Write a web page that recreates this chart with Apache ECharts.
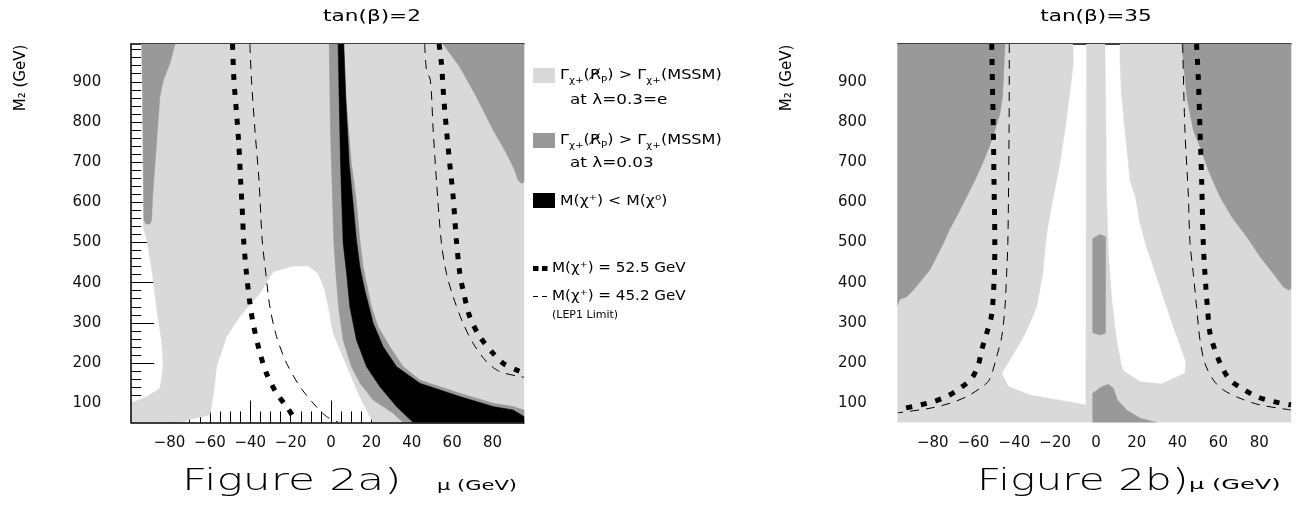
<!DOCTYPE html>
<html><head><meta charset="utf-8">
<script src="https://cdn.jsdelivr.net/npm/echarts@6/dist/echarts.min.js"></script>
<style>html,body{margin:0;padding:0;background:#fff}#c{width:1296px;height:517px}</style>
</head><body><div id="c"></div>
<script>
// ---------- tick labels ----------
const xTickLabels = [-80, -60, -40, -20, 0, 20, 40, 60, 80];
const yTickLabels = [100, 200, 300, 400, 500, 600, 700, 800, 900];
const xMajorTicks = [-80, -40, 0, 40, 80];
const xMinorTicks = [];
for (let v = -95; v <= 95; v += 5) xMinorTicks.push(v);
const yMinorTicks = [];
for (let v = 60; v <= 980; v += 20) yMinorTicks.push(v);

// ---------- Figure 2a : tan(beta)=2  (mu, M2) ----------
const a_lightGray = [[-93.8,994],[95.6,994],[95.6,52],[20.9,52],[18.4,75],[13.4,124.8],[9.3,174.5],[5.2,224.3],[1.1,274],[-1.4,340.4],[-3.1,381.8],[-6.4,423.3],[-11.3,441.5],[-18.8,441.5],[-28.7,427.4],[-35.2,373.5],[-45.2,315.5],[-51.8,265.7],[-56.7,191.1],[-58.4,116.5],[-60,71],[-70.8,58.5],[-73.3,52],[-99,52],[-99,102],[-97,104],[-91.3,116],[-84.7,137],[-83.1,195],[-84,257],[-86.5,340],[-88.5,423],[-91,498],[-93,539],[-93,564]];
const a_darkTopLeft = [[-93.8,994],[-77.3,994],[-79.8,946],[-83.1,904],[-84.8,863],[-87.2,697],[-88.4,614],[-88.9,556],[-89.7,546],[-91.7,546],[-92.7,556],[-93,697],[-93.3,863]];
const a_darkTopRight = [[55.5,994],[95.6,994],[95.6,651],[94.3,647],[92.6,655.5],[91,680],[86.9,722],[80.3,780],[72,863],[63.8,937]];
const a_darkBand = [[-0.9,994],[-0.3,780],[0.7,614],[1.4,498],[2.4,423],[3.7,340],[6,257],[10.1,191],[14.3,150],[20.9,108],[30.8,75],[35.7,52],[95.6,52],[95.6,83],[90.2,91.6],[80.3,99.9],[63.8,124.8],[44,157.9],[35.7,191.1],[29.1,240.9],[23.3,290.6],[20,340.4],[15.9,439.9],[14.3,506.2],[12.3,614],[10.1,697],[8,821],[7.3,863],[6.3,994]];
const a_black = [[3.5,994],[4,863],[4.7,697],[5.2,614],[6,498],[7.7,423],[9.3,340],[12.6,257],[17.6,191],[24.2,141],[32.4,91.6],[40.7,52],[95.6,52],[95.6,66.7],[90.2,83.3],[80.3,91.6],[63.8,116.5],[44,149.6],[32.4,191.1],[25.8,240.9],[20.9,298.9],[16.7,381.8],[14.3,439.9],[12.6,506.2],[10.6,614],[9,697],[7.3,863],[6.3,994]];
const a_m525Left = [[-48.8,994],[-48.1,904],[-46.8,821],[-45.6,738],[-44.8,655.5],[-43.8,564],[-43.3,506],[-41.9,423],[-40.2,349],[-38.6,299],[-35.6,232.6],[-32,174.5],[-27,124.8],[-22,91.6],[-17.1,53.5]];
const a_m452Left = [[-40.2,994],[-39.4,904],[-37.7,780],[-35.7,655.5],[-34.1,506],[-32.3,423],[-30.3,340],[-27,265.7],[-22,199.4],[-15.4,141.4],[-8.8,99.9],[-2.2,66.7],[3.5,53.5]];
const a_m525Right = [[53.5,994],[54.7,946],[55.8,863],[57.2,780],[58.8,697],[60.5,614],[62.1,506],[63.8,423],[65.4,382],[68.7,315.5],[73.7,265.7],[80.3,224.3],[85.2,199.4],[91.8,182.8],[95.6,174.5]];
const a_m452Right = [[46.4,994],[47.3,929],[49.2,904],[50.6,780],[52.2,655.5],[54.7,498],[57.2,423],[60.5,365],[65.4,299],[70.4,249],[77,203.5],[83.6,178.7],[93.5,166.2],[95.6,164.6]];

// ---------- Figure 2b : tan(beta)=35 ----------
const b_lightGray = [[-97.2,994],[-11.4,994],[-11.1,946],[-13.1,863],[-15.2,780],[-17.7,697],[-20.9,614],[-23.9,531],[-24.5,506],[-26.1,423],[-29.1,340],[-32.4,299],[-36.4,257],[-41.3,216],[-46.2,174.5],[-43,141.4],[-32.4,120.6],[-4.9,95.8],[-4.6,994],[4.4,994],[5.2,606],[6,482],[7.7,357],[10.1,257],[12.6,191],[13.4,181],[21.6,153.7],[32.2,148],[43.6,174.6],[44.1,203.5],[41,247],[37.9,291],[33,365],[28.1,440],[24.5,494],[21.6,548],[19.5,610],[16.7,655],[15.9,697],[14.2,780],[12.6,863],[11.8,946],[11.8,994],[95.6,994],[95.6,52],[-97.2,52]];
const b_darkTopLeft = [[-97.2,994],[-44.6,994],[-45.8,863],[-47.1,821],[-49.5,780],[-52.3,738],[-55.6,697],[-59.3,655.5],[-63.4,614],[-67.5,572.5],[-71.9,531],[-74.8,498],[-78.1,465],[-81.4,432],[-89.5,382],[-92.8,365],[-96.1,359],[-97.2,345]];
const b_darkTopRight = [[42,994],[95.6,994],[95.6,385],[94.3,382],[91.8,390],[86.9,423],[80.4,465],[73.9,514.5],[66.5,564],[60.8,614],[55.1,680],[51,738],[47.7,780],[44.5,863]];
const b_darkStrip = [[-1.6,510],[2,520],[4.7,514.5],[4.7,274],[2,270],[-1.6,275.6]];
const b_darkBottom = [[-1.6,52],[-1.6,125],[2.8,141],[6,147],[8.5,137],[10.5,108],[15,83],[21.6,62.7],[29.7,52]];
const b_m525Left = [[-51.1,994],[-50.8,904],[-50.3,780],[-50,655.5],[-49.6,498],[-49.8,423],[-50.7,340],[-51.5,311],[-53.6,274],[-56,232.6],[-57.7,195],[-60.9,162],[-66.7,137],[-73.2,116.5],[-79.7,104],[-86.3,95.8],[-96.1,85],[-97.2,83.5]];
const b_m452Left = [[-42.5,994],[-42.6,780],[-43.2,500],[-43.8,423],[-44.6,340],[-46.2,265.7],[-48.7,216],[-52.3,158],[-56.9,137],[-63.4,116.5],[-71.6,99.9],[-81.4,87.5],[-96.1,76.7],[-97.2,76]];
const b_m525Right = [[49.3,994],[50.2,904],[51,780],[51.8,655.5],[52.6,498],[53.4,423],[54.6,340],[55.9,274],[58.3,232.6],[61.6,191.1],[65.7,157.9],[71.4,137.2],[78.8,116.5],[86.9,104],[95.6,95.8]];
const b_m452Right = [[42.5,994],[43.6,780],[45.3,614],[46.1,498],[47.7,423],[49.3,340],[51,257],[53.4,199.4],[57.5,157.9],[62.4,133.1],[70.6,112.3],[80.4,95.8],[95.6,83.3]];

const LIGHT = '#d9d9d9', DARK = '#999999', BLACK = '#000000';
const FONT = 'DejaVu Sans';
const fmt = v => String(v).replace('-', '\u2212');

function poly(pts, color, xi, yi) {
  return {
    type: 'custom', coordinateSystem: 'cartesian2d', xAxisIndex: xi, yAxisIndex: yi,
    data: pts, encode: { x: 0, y: 1 }, clip: true, silent: true, animation: false, z: 2,
    renderItem: function (params, api) {
      if (params.dataIndex !== 0) return null;
      return { type: 'polygon', shape: { points: pts.map(p => api.coord(p)) },
               style: { fill: color, stroke: color, lineWidth: 0.5 } };
    }
  };
}
function curve(pts, thick, xi, yi) {
  return {
    type: 'line', xAxisIndex: xi, yAxisIndex: yi, data: pts, symbol: 'none', showSymbol: false,
    smooth: 0.3, clip: true, silent: true, animation: false, z: 5,
    lineStyle: thick ? { color: BLACK, width: 5, type: [6, 9], cap: 'butt' }
                     : { color: BLACK, width: 1, type: [9, 7], cap: 'butt' }
  };
}
const lbl = { fontFamily: FONT, fontSize: 15, color: '#111' };
function baseX(gi, min, max) {
  return { gridIndex: gi, type: 'value', min: min, max: max, splitLine: { show: false },
           axisLine: { show: false, onZero: false }, axisTick: { show: false }, axisLabel: { show: false } };
}
const xAxes = [
  Object.assign(baseX(0, -99, 95.6), { position: 'bottom', z: 0,
    axisTick: { show: true, inside: true, length: 22, customValues: xMajorTicks, lineStyle: { color: '#000', width: 1 } },
    axisLabel: Object.assign({ show: true, customValues: xTickLabels, margin: 13, formatter: fmt }, lbl) }),
  Object.assign(baseX(0, -99, 95.6), { position: 'bottom', z: 0,
    axisTick: { show: true, inside: true, length: 11, customValues: xMinorTicks, lineStyle: { color: '#000', width: 1 } } }),
  Object.assign(baseX(0, -99, 95.6), { position: 'bottom', z: 10,
    axisLine: { show: true, onZero: false, lineStyle: { color: '#000', width: 1.5 } } }),
  Object.assign(baseX(0, -99, 95.6), { position: 'top', z: 0,
    axisLine: { show: true, onZero: false, lineStyle: { color: '#000', width: 1.5 } } }),
  Object.assign(baseX(1, -97.2, 95.6), { position: 'bottom', z: 0,
    axisLabel: Object.assign({ show: true, customValues: xTickLabels, margin: 13, formatter: fmt }, lbl) }),
  Object.assign(baseX(1, -97.2, 95.6), { position: 'top', z: 0,
    axisLine: { show: true, onZero: false, lineStyle: { color: '#000', width: 1.5 } } })
];
function baseY(gi) {
  return { gridIndex: gi, type: 'value', min: 52, max: 994, splitLine: { show: false },
           axisLine: { show: false, onZero: false }, axisTick: { show: false }, axisLabel: { show: false } };
}
const yAxes = [
  Object.assign(baseY(0), { position: 'left', z: 0,
    axisTick: { show: true, inside: true, length: 23, customValues: yTickLabels, lineStyle: { color: '#000', width: 1 } },
    axisLabel: Object.assign({ show: true, customValues: yTickLabels, margin: 30 }, lbl) }),
  Object.assign(baseY(0), { position: 'left', z: 0,
    axisTick: { show: true, inside: true, length: 10, customValues: yMinorTicks, lineStyle: { color: '#000', width: 1 } } }),
  Object.assign(baseY(0), { position: 'left', z: 10,
    axisLine: { show: true, onZero: false, lineStyle: { color: '#000', width: 1.5 } } }),
  Object.assign(baseY(1), { position: 'left', z: 0,
    axisLabel: Object.assign({ show: true, customValues: yTickLabels, margin: 31 }, lbl) })
];

const series = [
  poly(a_lightGray, LIGHT, 0, 0),
  poly(a_darkTopLeft, DARK, 0, 0),
  poly(a_darkTopRight, DARK, 0, 0),
  poly(a_darkBand, DARK, 0, 0),
  poly(a_black, BLACK, 0, 0),
  curve(a_m525Left, true, 0, 0),
  curve(a_m525Right, true, 0, 0),
  curve(a_m452Left, false, 0, 0),
  curve(a_m452Right, false, 0, 0),
  poly(b_lightGray, LIGHT, 4, 3),
  poly(b_darkTopLeft, DARK, 4, 3),
  poly(b_darkTopRight, DARK, 4, 3),
  poly(b_darkStrip, DARK, 4, 3),
  poly(b_darkBottom, DARK, 4, 3),
  curve(b_m525Left, true, 4, 3),
  curve(b_m525Right, true, 4, 3),
  curve(b_m452Left, false, 4, 3),
  curve(b_m452Right, false, 4, 3)
];

function txt(x, y, text, size, opts) {
  opts = opts || {};
  return { type: 'text', x: x, y: y, scaleX: opts.sx || 1, rotation: opts.rot || 0, silent: true,
    style: { text: text, fill: '#000', fontFamily: FONT, fontSize: size, fontWeight: opts.w || 'normal',
             align: opts.align || 'left', verticalAlign: opts.va || 'middle', rich: opts.rich } };
}
const richG = {
  n: { fontFamily: FONT, fontSize: 14, fill: '#000', color: '#000', lineHeight: 20, verticalAlign: 'middle' },
  s: { fontFamily: FONT, fontSize: 9, fill: '#000', color: '#000', lineHeight: 9, verticalAlign: 'bottom' }
};
const gammaText = '{n|\u0393}{s|\u03c7+}{n|(R\u0338}{s|P}{n|) > \u0393}{s|\u03c7+}{n|(MSSM)}';

const graphic = [
  txt(372, 17, 'tan(\u03b2)=2', 16, { align: 'center', sx: 1.35 }),
  txt(1096, 17, 'tan(\u03b2)=35', 16, { align: 'center', sx: 1.35 }),
  txt(21, 78, 'M\u2082 (GeV)', 15, { align: 'center', rot: Math.PI / 2 }),
  txt(787, 78, 'M\u2082 (GeV)', 15, { align: 'center', rot: Math.PI / 2 }),
  txt(182, 482, 'Figure 2a)', 30, { sx: 1.47, w: 200 }),
  txt(977, 482, 'Figure 2b)', 30, { sx: 1.41, w: 200 }),
  txt(437, 486, '\u03bc (GeV)', 14, { sx: 1.5 }),
  txt(1189, 485, '\u03bc (GeV)', 14, { sx: 1.72 }),
  // legend
  { type: 'rect', shape: { x: 533, y: 68, width: 22, height: 15 }, style: { fill: LIGHT }, silent: true },
  txt(560, 75, gammaText, 14, { sx: 1.15, rich: richG }),
  txt(570, 100, 'at \u03bb=0.3=e', 14, { sx: 1.2 }),
  { type: 'rect', shape: { x: 533, y: 133, width: 22, height: 15 }, style: { fill: DARK }, silent: true },
  txt(560, 140, gammaText, 14, { sx: 1.15, rich: richG }),
  txt(570, 163, 'at \u03bb=0.03', 14, { sx: 1.2 }),
  { type: 'rect', shape: { x: 533, y: 193, width: 22, height: 15 }, style: { fill: BLACK }, silent: true },
  txt(560, 201, 'M(\u03c7\u207a) < M(\u03c7\u2070)', 14, { sx: 1.12 }),
  { type: 'rect', shape: { x: 533, y: 266, width: 5.5, height: 5 }, style: { fill: BLACK }, silent: true },
  { type: 'rect', shape: { x: 542, y: 266, width: 5.5, height: 5 }, style: { fill: BLACK }, silent: true },
  txt(552, 268, 'M(\u03c7\u207a) = 52.5 GeV', 14, { sx: 1.08 }),
  { type: 'line', shape: { x1: 533, y1: 296.5, x2: 538, y2: 296.5 }, style: { stroke: BLACK, lineWidth: 1 }, silent: true },
  { type: 'line', shape: { x1: 542, y1: 296.5, x2: 547, y2: 296.5 }, style: { stroke: BLACK, lineWidth: 1 }, silent: true },
  txt(552, 296, 'M(\u03c7\u207a) = 45.2 GeV', 14, { sx: 1.08 }),
  txt(552, 315, '(LEP1 Limit)', 10, { sx: 1.1 })
];

const chart = echarts.init(document.getElementById('c'), null, { renderer: 'canvas' });
chart.setOption({
  animation: false,
  backgroundColor: '#ffffff',
  grid: [
    { left: 131.2, top: 44, width: 392.8, height: 378.5, outerBoundsMode: 'none', containLabel: false },
    { left: 897.7, top: 44, width: 393.3, height: 378.5, outerBoundsMode: 'none', containLabel: false }
  ],
  xAxis: xAxes,
  yAxis: yAxes,
  series: series,
  graphic: graphic
});
</script></body></html>
